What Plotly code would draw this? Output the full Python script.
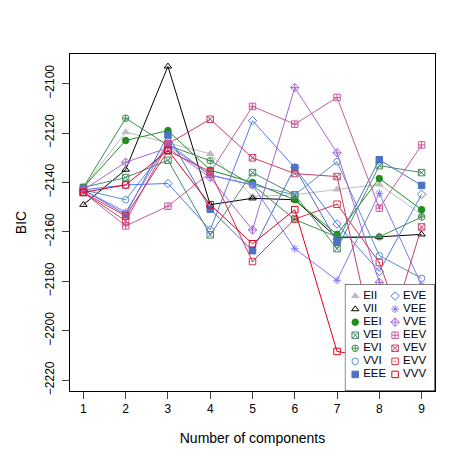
import plotly.graph_objects as go

# BIC values per covariance model, G = 1..9
components = [1, 2, 3, 4, 5, 6, 7, 8, 9]

EII = [-2142, -2119.6, -2124, -2128.4, -2145.6, -2145, -2142.8, -2140.8, -2153]
VII = [-2149, -2134.8, -2093, -2149, -2146.4, -2147, -2162.4, -2162, -2161]
EEI = [-2142, -2123, -2119, -2135, -2140, -2147, -2161, -2138.4, -2151]
VEI = [-2142, -2138, -2131, -2161.2, -2136, -2145, -2166.8, -2133.2, -2136]
EVI = [-2142, -2114, -2125, -2131.2, -2141, -2155, -2162, -2162, -2154]
VVI = [-2143, -2147, -2125, -2137, -2141, -2145, -2131.6, -2169.6, -2178.8]
EEE = [-2143, -2153, -2120.8, -2150.8, -2167.6, -2134, -2164, -2130.8, -2141.2]
EVE = [-2143, -2141, -2140.4, -2159.2, -2115, -2134, -2156.8, -2176, -2144.8]
VEE = [-2143, -2152, -2124, -2137, -2141, -2166.8, -2179.6, -2144.4, -2181.6]
VVE = [-2143, -2131.8, -2126, -2138, -2159.2, -2101.6, -2128, -2180.4, -2195.6]
EEV = [-2144, -2157.6, -2149.6, -2136, -2109.2, -2116.4, -2105.6, -2150.4, -2124.8]
VEV = [-2144, -2155.6, -2124.4, -2114.4, -2130, -2136.4, -2137.6, -2214.4, -2158]
EVV = [-2144, -2153.6, -2127.2, -2135.6, -2172, -2154.8, -2148.8, -2172.4, -2219.6]
VVV = [-2144, -2141, -2127, -2149, -2164.8, -2151, -2208.4, -2211, -2200]

model_names = ["EII", "VII", "EEI", "VEI", "EVI", "VVI", "EEE",
               "EVE", "VEE", "VVE", "EEV", "VEV", "EVV", "VVV"]
model_values = [EII, VII, EEI, VEI, EVI, VVI, EEE, EVE, VEE, VVE, EEV, VEV, EVV, VVV]
model_colors = ["#BEBEBE", "#000000", "#1E8F1E", "#4A8A6A", "#3C8E4E", "#5B8FC9", "#4B72C4",
                "#4F7BF0", "#7B78F5", "#A467D6", "#C65C9E", "#C8406E", "#D63350", "#E0001E"]
model_symbols = ["triangle-up", "triangle-up-open", "circle", "square-x-open",
                 "circle-cross-open", "circle-open", "square", "diamond-open",
                 "asterisk-open", "diamond-cross-open", "square-cross-open",
                 "square-x-open", "square-open-dot", "square-open"]

font_family = "Liberation Sans, Arial, sans-serif"

fig = go.Figure()

for name, vals, color, sym in zip(model_names, model_values, model_colors, model_symbols):
    fig.add_trace(go.Scatter(
        x=components, y=vals, mode="lines+markers", name=name,
        line=dict(color=color, width=1),
        marker=dict(symbol=sym, size=6.5, color=color, line=dict(color=color, width=1)),
        showlegend=False,
    ))

# R-style legend box (two columns) drawn on an inset axis
rows_per_col = 7
text_gap = 0.2
for i, (name, color, sym) in enumerate(zip(model_names, model_colors, model_symbols)):
    col, row = i // rows_per_col, i % rows_per_col
    fig.add_trace(go.Scatter(
        x=[col], y=[row], mode="markers",
        marker=dict(symbol=sym, size=6.5, color=color, line=dict(color=color, width=1)),
        xaxis="x2", yaxis="y2", showlegend=False, hoverinfo="skip",
    ))
    fig.add_trace(go.Scatter(
        x=[col + text_gap], y=[row], mode="text",
        text=[name], textposition="middle right",
        textfont=dict(size=11.5, color="black", family=font_family),
        xaxis="x2", yaxis="y2", showlegend=False, hoverinfo="skip",
    ))

leg_x = [-0.26, 2.0]
leg_y = [7.27, -0.91]
fig.add_shape(type="rect", xref="x2", yref="y2", layer="below",
              x0=leg_x[0], x1=leg_x[1], y0=leg_y[0], y1=leg_y[1],
              fillcolor="white", line=dict(color="black", width=1))

# page body has an 8px margin, so the figure is a bit smaller than the window
fig.update_layout(
    width=447, height=447,
    margin=dict(l=46, r=20, t=46, b=60),
    plot_bgcolor="white", paper_bgcolor="white",
    font=dict(family=font_family, size=12, color="black"),
    showlegend=False,
    xaxis=dict(
        range=[0.683, 9.317], tickvals=components, ticks="outside", ticklen=7,
        showline=True, mirror=True, linecolor="black", linewidth=1,
        showgrid=False, zeroline=False,
        title=dict(text="Number of components", standoff=17),
    ),
    yaxis=dict(
        range=[-2224.4, -2088], tickvals=[-2220, -2200, -2180, -2160, -2140, -2120, -2100],
        ticks="outside", ticklen=7, tickangle=-90, ticklabelstandoff=3,
        showline=True, mirror=True, linecolor="black", linewidth=1,
        showgrid=False, zeroline=False,
        title=dict(text="BIC", standoff=13),
    ),
    xaxis2=dict(domain=[0.753, 1.0], range=leg_x, visible=False, fixedrange=True),
    yaxis2=dict(domain=[0.0, 0.317], range=leg_y, visible=False, fixedrange=True,
                anchor="x2"),
)

fig.write_html("out.html")
